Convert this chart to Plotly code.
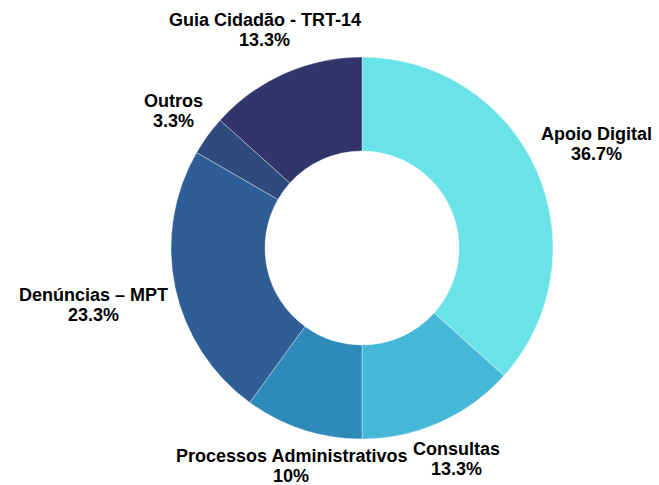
import math
import plotly.graph_objects as go

labels = ["Apoio Digital", "Consultas", "Processos Administrativos", "Denúncias – MPT", "Outros", "Guia Cidadão - TRT-14"]
values = [11, 4, 3, 7, 1, 4]
colors = ["#6AE3E8", "#45B8D8", "#2E8AB9", "#2F5E96", "#2F4A7E", "#31356C"]

W, H = 659, 485
CX, CY, R = 362, 248, 191          # pie centre / radius in pixels
FONT_SIZE = 18
LINE_GAP = 20
FONT = "Liberation Sans, Arial, sans-serif"

# Arial Bold advance widths (per 1000 em) for width estimation
AW = {' ': 278, 'a': 556, 'b': 611, 'c': 556, 'd': 611, 'e': 556, 'g': 611, 'i': 278, 'l': 278,
      'm': 889, 'n': 611, 'o': 611, 'p': 611, 'r': 389, 's': 556, 't': 333, 'u': 611, 'v': 556,
      'ã': 556, 'ú': 611, 'A': 722, 'C': 722, 'D': 722, 'G': 778, 'M': 833, 'O': 778, 'P': 667,
      'R': 722, 'T': 611, '-': 333, '–': 556, '.': 278, '%': 889}


def text_w(s):
    return sum(AW.get(ch, 556) for ch in s) * FONT_SIZE / 1000.0


total = sum(values)
pct = []
for v in values:
    s = f"{100 * v / total:.1f}"
    if s.endswith(".0"):
        s = s[:-2]
    pct.append(s + "%")

fig = go.Figure(go.Pie(
    labels=labels, values=values, hole=0.508, sort=False, direction="clockwise", rotation=0,
    marker=dict(colors=colors, line=dict(color="rgba(255,255,255,0.35)", width=1)),
    textinfo="none", hoverinfo="label+percent",
    domain=dict(x=[(CX - R) / W, (CX + R) / W], y=[(H - CY - R) / H, (H - CY + R) / H]),
    showlegend=False,
))

annotations = []
r0 = 197
hh = 21
cum = 0
for lab, v, p in zip(labels, values, pct):
    theta = 2 * math.pi * (cum + v / 2) / total
    cum += v
    ux, uy = math.sin(theta), -math.cos(theta)
    hw = max(text_w(lab), text_w(p)) / 2
    lo, hi = 0.0, 600.0
    for _ in range(60):
        t = (lo + hi) / 2
        cx, cy = t * ux, t * uy
        d = math.hypot(max(0, abs(cx) - hw), max(0, abs(cy) - hh))
        if d < r0:
            lo = t
        else:
            hi = t
    cx, cy = t * ux, t * uy
    xp = (CX + cx) / W
    yp = 1 - (CY + cy) / H
    for txt, shift in ((lab, LINE_GAP / 2), (p, -LINE_GAP / 2)):
        annotations.append(dict(
            x=xp, y=yp, xref="paper", yref="paper", text=f"<b>{txt}</b>", showarrow=False,
            xanchor="center", yanchor="middle", yshift=shift,
            font=dict(family=FONT, size=FONT_SIZE, color="black"),
        ))

fig.update_layout(width=W, height=H, margin=dict(l=0, r=0, t=0, b=0),
                  paper_bgcolor="white", plot_bgcolor="white", annotations=annotations)
fig.write_html("out.html")
